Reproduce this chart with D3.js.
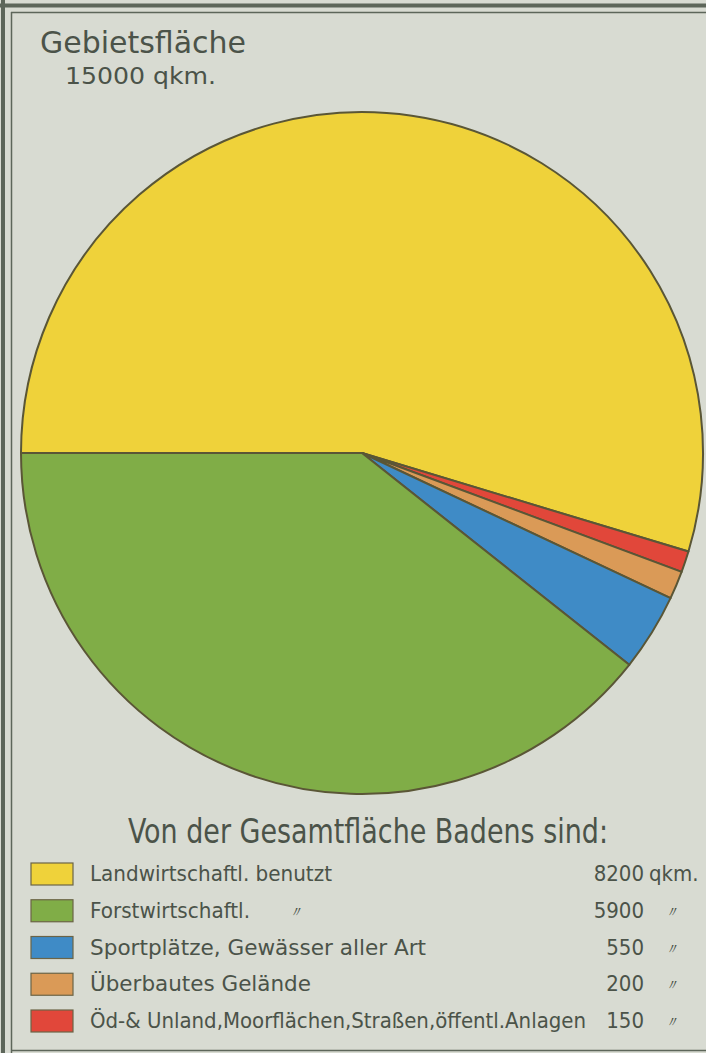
<!DOCTYPE html>
<html>
<head>
<meta charset="utf-8">
<script src="https://cdn.jsdelivr.net/npm/d3@7"></script>
<style>
  html, body { margin: 0; padding: 0; background: #d8dbd2; }
  svg { display: block; }
  text { font-family: "DejaVu Sans Condensed", "DejaVu Sans", sans-serif; fill: #4b5349; }
</style>
</head>
<body>
<script>
// ---- data ----
const categories = [
  "Landwirtschaftl. benutzt",
  "Forstwirtschaftl.",
  "Sportplätze, Gewässer aller Art",
  "Überbautes Gelände",
  "Öd-& Unland,Moorflächen,Straßen,öffentl.Anlagen"
];
const values = [8200, 5900, 550, 200, 150];
const units = ["qkm.", "〃", "〃", "〃", "〃"];
const labelSuffix = ["", "〃", "", "", ""];
const colors = ["#efd23a", "#80ad47", "#3f8bc6", "#da9a57", "#e1473a"];
const pieOrder = [0, 4, 3, 2, 1]; // clockwise from 9 o'clock
const titleLines = ["Gebietsfläche", "15000 qkm."];
const legendTitle = "Von der Gesamtfläche Badens sind:";

const W = 706, H = 1053;
const svg = d3.select("body").append("svg").attr("width", W).attr("height", H);

svg.append("rect").attr("width", W).attr("height", H).attr("fill", "#d8dbd2");

// frame
const frame = svg.append("g").attr("stroke", "#5d665a").attr("fill", "none");
frame.append("line").attr("x1", 0).attr("x2", W).attr("y1", 5.5).attr("y2", 5.5).attr("stroke-width", 4);
frame.append("line").attr("x1", 11).attr("x2", W).attr("y1", 12.5).attr("y2", 12.5).attr("stroke-width", 1.5);
frame.append("line").attr("x1", 3).attr("x2", 3).attr("y1", 0).attr("y2", H).attr("stroke-width", 4);
frame.append("line").attr("x1", 11.5).attr("x2", 11.5).attr("y1", 12).attr("y2", H).attr("stroke-width", 1.5);
frame.append("line").attr("x1", 11).attr("x2", W).attr("y1", 1050.5).attr("y2", 1050.5).attr("stroke-width", 1.5);

// titles
svg.append("text").attr("x", 40).attr("y", 53).attr("font-size", 30)
  .attr("textLength", 206).attr("lengthAdjust", "spacingAndGlyphs").text(titleLines[0]);
svg.append("text").attr("x", 65).attr("y", 84).attr("font-size", 23)
  .attr("textLength", 151).attr("lengthAdjust", "spacingAndGlyphs").text(titleLines[1]);

// pie
const cx = 362, cy = 453, r = 341;
const pieData = pieOrder.map(i => ({ i, v: values[i] }));
const pie = d3.pie().sort(null).value(d => d.v)
  .startAngle(-Math.PI / 2).endAngle(3 * Math.PI / 2);
const arc = d3.arc().innerRadius(0).outerRadius(r);
svg.append("g").attr("transform", `translate(${cx},${cy})`)
  .selectAll("path").data(pie(pieData)).join("path")
  .attr("d", arc)
  .attr("fill", d => colors[d.data.i])
  .attr("stroke", "#5a5636").attr("stroke-width", 2).attr("stroke-linejoin", "round");

// legend title
svg.append("text").attr("x", 128).attr("y", 843).attr("font-size", 34)
  .attr("textLength", 480).attr("lengthAdjust", "spacingAndGlyphs").text(legendTitle);

// legend rows
const labelWidths = [242, 160, 336, 221, 496];
const rowY = d3.scaleLinear().domain([0, 4]).range([874, 1021]);
const rows = svg.append("g").selectAll("g").data(categories).join("g")
  .attr("transform", (d, i) => `translate(0,${rowY(i)})`);
rows.append("rect").attr("x", 31).attr("y", -11).attr("width", 42).attr("height", 22)
  .attr("fill", (d, i) => colors[i]).attr("stroke", "#6b6446").attr("stroke-width", 1.2);
rows.append("text").attr("x", 90).attr("y", 7).attr("font-size", 22)
  .attr("textLength", (d, i) => labelWidths[i]).attr("lengthAdjust", "spacingAndGlyphs")
  .text(d => d);
rows.filter((d, i) => labelSuffix[i]).append("text").attr("x", 288).attr("y", 6)
  .attr("font-size", 15).attr("font-style", "italic").text(d => labelSuffix[categories.indexOf(d)]);
rows.append("text").attr("x", 644).attr("y", 7).attr("font-size", 22).attr("text-anchor", "end")
  .text((d, i) => values[i]);
rows.append("text").attr("x", (d, i) => i === 0 ? 649 : 664).attr("y", (d, i) => i === 0 ? 7 : 6)
  .attr("font-size", (d, i) => i === 0 ? 22 : 15).attr("font-style", (d, i) => i === 0 ? null : "italic")
  .text((d, i) => units[i]);
</script>
</body>
</html>
